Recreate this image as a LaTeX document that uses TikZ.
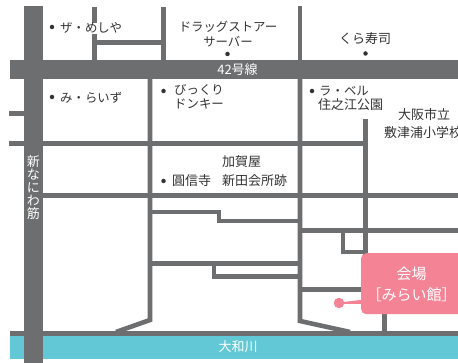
\documentclass[tikz,border=0pt]{standalone}
\usepackage{fontspec}
\setmainfont{Noto Sans CJK JP}
\definecolor{road}{HTML}{6D6E70}
\definecolor{river}{HTML}{62C8D6}
\definecolor{venue}{HTML}{F48396}
\definecolor{ink}{HTML}{333333}
\tikzset{
 roadfill/.style={fill=road,draw=none},
 streetline/.style={draw=road,line width=4.6pt,line join=miter},
 lbl/.style={inner sep=0pt,text=ink,font=\fontsize{12.4}{14.5}\selectfont,align=center},
 klbl/.style={inner sep=0pt,text=ink,font=\fontsize{13}{15}\selectfont,align=center},
 wlbl/.style={inner sep=0pt,text=white,font=\fontsize{13}{15}\selectfont,align=center},
 shop/.style={circle,fill=ink,inner sep=0pt,minimum size=4.5pt},
}
\begin{document}
\begin{tikzpicture}[x=1pt,y=-1pt]
\useasboundingbox (0,0) rectangle (458,363);
\clip (0,0) rectangle (458,363);
\fill[white] (0,0) rectangle (458,363);
% river
\fill[river] (10,336) rectangle (458,359);
% thin streets
\draw[streetline] (94.5,7) -- (94.5,60);
\fill[white] (91,23) rectangle (98,34);
\draw[streetline] (94.5,42.5) -- (163.5,42.5);
\draw[streetline] (163.5,7) -- (163.5,60);
\draw[streetline] (300,6) -- (300,60);
\draw[streetline] (9,113.5) -- (24,113.5);
\draw[streetline] (9,143.5) -- (365.5,143.5);
\draw[streetline] (43,195.5) -- (458,195.5);
\draw[streetline] (150,79) -- (150,320) -- (116,332);
\draw[streetline] (300,79) -- (300,321) -- (350,332);
\draw[streetline] (365.5,119) -- (365.5,256);
\draw[streetline] (300,230.5) -- (458,230.5);
\draw[streetline] (343,231) -- (343,252) -- (365,252);
\draw[streetline] (150,212) -- (219,212) -- (219,221) -- (300,221);
\draw[streetline] (150,263.5) -- (300,263.5);
\draw[streetline] (214,264) -- (214,276.5) -- (300,276.5);
\draw[streetline] (300,289.5) -- (365,289.5);
\draw[streetline] (384.5,310) -- (384.5,332);
\draw[streetline] (10,333.5) -- (458,333.5);
% main roads
\fill[roadfill] (10,60) rectangle (458,79);
\fill[roadfill] (24,6) rectangle (43,363);
% venue
\node[circle,fill=venue,inner sep=0pt,minimum size=10.5pt] (venuedot) at (339,303) {};
\fill[venue] (339,302.5) -- (365,299.5) -- (365,304) -- (339,304) -- cycle;
\node[fill=venue,rounded corners=5pt,minimum width=102pt,minimum height=61pt,inner sep=0pt,anchor=north west] (venuebox) at (361,253) {};
\node[inner sep=0pt,text=white,font=\fontsize{15}{21}\selectfont,align=center] (venuetext) at (411.5,284.5) {会場\\［みらい館］};
% shop dots
\node[shop] (d1) at (52,27) {};
\node[shop] (d2) at (227.5,54) {};
\node[shop] (d3) at (365.5,53.5) {};
\node[shop] (d4) at (52,97) {};
\node[shop] (d5) at (163.5,91) {};
\node[shop] (d6) at (312,91) {};
\node[shop] (d7) at (163.5,181) {};
% labels
\node[lbl,anchor=west] (t1) at (60,27.5) {ザ・めしや};
\node[lbl] (t2) at (228,34) {ドラッグストアー\\サーバー};
\node[klbl] (t3) at (365,39) {くら寿司};
\node[wlbl] (t4) at (237.5,70) {42号線};
\node[lbl,anchor=west] (t5) at (60,97.5) {み・らいず};
\node[lbl,anchor=north west,align=left] (t6) at (174,84) {びっくり\\ドンキー};
\node[lbl,anchor=west] (t7a) at (319,91) {ラ・ベル};
\node[klbl,anchor=west] (t7b) at (318,105) {住之江公園};
\node[klbl] (t8) at (424,115) {大阪市立};
\node[klbl,anchor=west] (t9) at (384,133) {敷津浦小学校};
\node[klbl] (t10) at (241.5,162) {加賀屋};
\node[klbl,anchor=west] (t11) at (172,181) {圓信寺};
\node[klbl,anchor=west] (t12) at (222,181) {新田会所跡};
\node[wlbl] (t13) at (33.5,188) {新\\[-2pt]な\\[-2pt]に\\[-2pt]わ\\[-2pt]筋};
\node[wlbl] (t14) at (238,347) {大和川};
\end{tikzpicture}
\end{document}
